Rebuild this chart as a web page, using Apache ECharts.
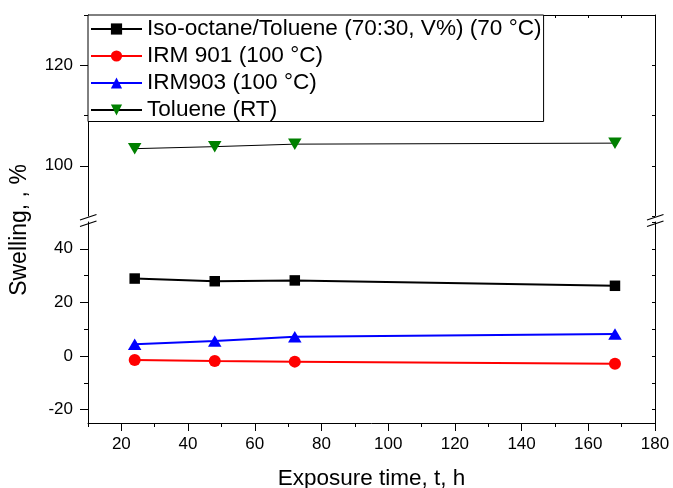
<!DOCTYPE html>
<html>
<head>
<meta charset="utf-8">
<script src="https://cdn.jsdelivr.net/npm/echarts@6/dist/echarts.min.js"></script>
<style>
  html, body { margin: 0; padding: 0; background: #fff; }
  #chart { width: 673px; height: 488px; }
</style>
</head>
<body>
<div id="chart"></div>
<script>
// Swelling (%) versus exposure time (h) for four test media
const hours = [24, 48, 72, 168];
const isoOctaneToluene = [28.9, 27.9, 28.2, 26.2];
const irm901 = [-1.5, -1.9, -2.1, -2.9];
const irm903 = [4.4, 5.6, 7.2, 8.2];
const toluene = [103.4, 103.8, 104.3, 104.5];

const seriesNames = [
  'Iso-octane/Toluene (70:30, V%) (70 °C)',
  'IRM 901 (100 °C)',
  'IRM903 (100 °C)',
  'Toluene (RT)'
];

// Tick positions
const xLabelTicks = [20, 40, 60, 80, 100, 120, 140, 160, 180];
const xMinorTicks = [10, 30, 50, 70, 90, 110, 130, 150, 170];
const xAllTicks = [10, 20, 30, 40, 50, 60, 70, 80, 90, 100, 110, 120, 130, 140, 150, 160, 170, 180];
const yUpperLabelTicks = [100, 120];
const yUpperMinorTicks = [110, 130];
const yUpperAllTicks = [90, 100, 110, 120, 130];
const yLowerLabelTicks = [-20, 0, 20, 40];
const yLowerMinorTicks = [-10, 10, 30];
const yLowerAllTicks = [-20, -10, 0, 10, 20, 30, 40, 50];

const FONT = '"Liberation Sans", Arial, sans-serif';
const AXIS_COLOR = '#000';

// Layout of the two stacked panels (broken y axis)
const PLOT_LEFT = 88, PLOT_RIGHT = 655;
const UPPER_TOP = 15, UPPER_H = 201;
const LOWER_TOP = 222, LOWER_H = 201;

function pairs(xs, ys) { return xs.map((x, i) => [x, ys[i]]); }

function baseAxis(extra) {
  return Object.assign({
    type: 'value',
    axisLine: { show: false, onZero: false },
    axisLabel: { show: false },
    axisTick: { show: false },
    splitLine: { show: false }
  }, extra);
}

const lineAxis = { show: true, onZero: false, lineStyle: { color: AXIS_COLOR, width: 1 } };
const labelStyle = { color: '#000', fontSize: 17, fontFamily: FONT };

const chart = echarts.init(document.getElementById('chart'), null, { renderer: 'canvas' });

chart.setOption({
  animation: false,
  backgroundColor: '#fff',
  grid: [
    { left: PLOT_LEFT, right: 673 - PLOT_RIGHT, top: UPPER_TOP, height: UPPER_H, outerBoundsMode: 'none', containLabel: false },
    { left: PLOT_LEFT, right: 673 - PLOT_RIGHT, top: LOWER_TOP, height: LOWER_H, outerBoundsMode: 'none', containLabel: false }
  ],
  xAxis: [
    baseAxis({
      gridIndex: 0, position: 'top', min: 10, max: 180,
      axisLine: lineAxis,
      axisTick: { show: true, inside: true, length: 3, customValues: xAllTicks, lineStyle: { color: AXIS_COLOR } }
    }),
    baseAxis({
      gridIndex: 1, position: 'bottom', min: 10, max: 180,
      axisLine: lineAxis,
      axisTick: { show: true, length: 8, customValues: xLabelTicks, lineStyle: { color: AXIS_COLOR } },
      axisLabel: Object.assign({ show: true, margin: 13, customValues: xLabelTicks }, labelStyle),
      name: 'Exposure time, t, h',
      nameLocation: 'middle',
      nameGap: 44,
      nameTextStyle: { color: '#000', fontSize: 22.5, fontFamily: FONT }
    }),
    baseAxis({
      gridIndex: 1, position: 'bottom', min: 10, max: 180,
      axisTick: { show: true, length: 4, customValues: xMinorTicks, lineStyle: { color: AXIS_COLOR } }
    })
  ],
  yAxis: [
    baseAxis({
      gridIndex: 0, position: 'left', min: 90, max: 130,
      axisLine: lineAxis,
      axisTick: { show: true, length: 8, customValues: yUpperLabelTicks, lineStyle: { color: AXIS_COLOR } },
      axisLabel: Object.assign({ show: true, margin: 15, customValues: yUpperLabelTicks }, labelStyle)
    }),
    baseAxis({
      gridIndex: 0, position: 'left', min: 90, max: 130,
      axisTick: { show: true, length: 4, customValues: yUpperMinorTicks, lineStyle: { color: AXIS_COLOR } }
    }),
    baseAxis({
      gridIndex: 0, position: 'right', min: 90, max: 130,
      axisLine: lineAxis,
      axisTick: { show: true, inside: true, length: 3, customValues: yUpperAllTicks, lineStyle: { color: AXIS_COLOR } }
    }),
    baseAxis({
      gridIndex: 1, position: 'left', min: -25, max: 50,
      axisLine: lineAxis,
      axisTick: { show: true, length: 8, customValues: yLowerLabelTicks, lineStyle: { color: AXIS_COLOR } },
      axisLabel: Object.assign({ show: true, margin: 15, customValues: yLowerLabelTicks }, labelStyle)
    }),
    baseAxis({
      gridIndex: 1, position: 'left', min: -25, max: 50,
      axisTick: { show: true, length: 4, customValues: yLowerMinorTicks, lineStyle: { color: AXIS_COLOR } }
    }),
    baseAxis({
      gridIndex: 1, position: 'right', min: -25, max: 50,
      axisLine: lineAxis,
      axisTick: { show: true, inside: true, length: 3, customValues: yLowerAllTicks, lineStyle: { color: AXIS_COLOR } }
    })
  ],
  legend: {
    orient: 'vertical',
    left: PLOT_LEFT,
    top: UPPER_TOP,
    padding: [2.5, 2, 0, 2],
    itemGap: 4.0,
    itemWidth: 51,
    itemHeight: 14,
    backgroundColor: '#fff',
    borderColor: '#000',
    borderWidth: 1,
    borderRadius: 0,
    textStyle: { color: '#000', fontSize: 22.6, lineHeight: 22, fontFamily: FONT },
    data: seriesNames
  },
  series: [
    {
      name: seriesNames[0], type: 'line', xAxisIndex: 1, yAxisIndex: 3,
      data: pairs(hours, isoOctaneToluene),
      symbol: 'rect', symbolSize: 10.5,
      itemStyle: { color: '#000' },
      lineStyle: { color: '#000', width: 2 }
    },
    {
      name: seriesNames[1], type: 'line', xAxisIndex: 1, yAxisIndex: 3,
      data: pairs(hours, irm901),
      symbol: 'circle', symbolSize: 12,
      itemStyle: { color: '#ff0000' },
      lineStyle: { color: '#ff0000', width: 2 }
    },
    {
      name: seriesNames[2], type: 'line', xAxisIndex: 1, yAxisIndex: 3,
      data: pairs(hours, irm903),
      symbol: 'triangle', symbolSize: [13.5, 11.5],
      itemStyle: { color: '#0000ff' },
      lineStyle: { color: '#0000ff', width: 2 }
    },
    {
      name: seriesNames[3], type: 'line', xAxisIndex: 0, yAxisIndex: 0,
      data: pairs(hours, toluene),
      symbol: 'triangle', symbolSize: [13.5, 11.5], symbolRotate: 180,
      itemStyle: { color: '#008000' },
      lineStyle: { color: '#000', width: 1 }
    }
  ],
  graphic: [
    // y-axis title
    {
      type: 'text', x: 20, y: 230, rotation: Math.PI / 2,
      style: {
        text: 'Swelling, , %', fill: '#000', font: '23px ' + FONT,
        align: 'center', verticalAlign: 'middle',
        textAlign: 'center', textVerticalAlign: 'middle'
      }
    },
    // axis break marks, left and right
    ...[PLOT_LEFT, PLOT_RIGHT].flatMap(cx => [0, 6.5].map(dy => ({
      type: 'line',
      shape: { x1: cx - 8, y1: UPPER_TOP + UPPER_H + 4 + dy, x2: cx + 8.5, y2: UPPER_TOP + UPPER_H - 1.5 + dy },
      style: { stroke: '#000', lineWidth: 1.3 },
      z: 10
    })))
  ]
});
</script>
</body>
</html>
